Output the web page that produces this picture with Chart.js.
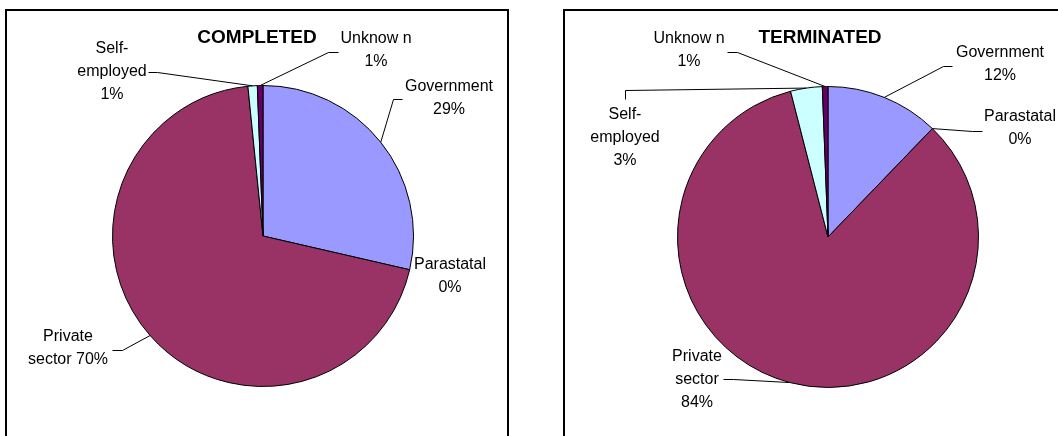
<!DOCTYPE html>
<html>
<head>
<meta charset="utf-8">
<script src="https://cdn.jsdelivr.net/npm/chart.js@4.4.1/dist/chart.umd.min.js"></script>
<style>
  html, body { margin:0; padding:0; background:#fff; width:1058px; height:436px; overflow:hidden; }
  .box { position:absolute; border:2px solid #000; box-sizing:border-box; }
  canvas { position:absolute; top:0; }
</style>
</head>
<body>
<div class="box" style="left:5px; top:9px; width:504px; height:460px;"></div>
<div class="box" style="left:563px; top:9px; width:520px; height:460px;"></div>
<canvas id="c1" width="529" height="436" style="left:0px;"></canvas>
<canvas id="c2" width="529" height="436" style="left:529px;"></canvas>
<script>
// ---- data ----
const categories = ["Government", "Parastatal", "Private sector", "Self-employed", "Unknown"];
const completedValues = [28.6, 0, 69.8, 1.0, 0.6];
const terminatedValues = [12.2, 0, 83.8, 3.4, 0.6];
const sliceColors = ["#9999FF", "#FFFFCC", "#993366", "#CCFFFF", "#660066"];
const completedTitle = "COMPLETED";
const terminatedTitle = "TERMINATED";
// label text lines ({p} = percentage)
const completedLabelLines = [["Government", "{p}"], ["Parastatal", "{p}"], ["Private", "sector {p}"], ["Self-", "employed", "{p}"], ["Unknow n", "{p}"]];
const terminatedLabelLines = [["Government", "{p}"], ["Parastatal", "{p}"], ["Private", "sector", "{p}"], ["Self-", "employed", "{p}"], ["Unknow n", "{p}"]];

// ---- layout (label placement, leader elbows) ----
const completedLayout = {
  padding: {left:112, right:115, top:85, bottom:49},
  titleX: 257, titleY: 38,
  labels: [
    {x:449, y:87, line:[[393,99],[402,99]]},
    {x:450, y:265, line:null},
    {x:68, y:337, line:[[122,350],[112,350]]},
    {x:112, y:49, line:[[157,72],[148,72]]},
    {x:376, y:39, line:[[328,52],[338,52]]}
  ]
};
const terminatedLayout = {
  padding: {left:148, right:79, top:86, bottom:48},
  titleX: 291, titleY: 38,
  labels: [
    {x:471, y:53, line:[[414,66],[423,66]]},
    {x:491, y:117, line:[[443,131],[453,131]]},
    {x:168, y:357, line:[[204,379],[194,379]]},
    {x:96, y:115, line:[[96,90],[96,99]]},
    {x:160, y:39, line:[[208,52],[198,52]]}
  ]
};

const LABEL_FONT = '16px "Liberation Sans", Arial, sans-serif';
const TITLE_FONT = 'bold 19px "Liberation Sans", Arial, sans-serif';
const LINE_H = 23;

function labelPlugin(layout, lines, title) {
  return {
    id: 'pieLabels',
    afterDraw(chart) {
      const ctx = chart.ctx;
      const meta = chart.getDatasetMeta(0);
      const vals = chart.data.datasets[0].data;
      const total = vals.reduce((a, b) => a + b, 0);
      ctx.save();
      ctx.fillStyle = '#000';
      ctx.textAlign = 'center';
      ctx.textBaseline = 'middle';
      ctx.font = TITLE_FONT;
      ctx.fillText(title, layout.titleX, layout.titleY);
      ctx.font = LABEL_FONT;
      ctx.strokeStyle = '#000';
      ctx.lineWidth = 1;
      meta.data.forEach((arc, i) => {
        const L = layout.labels[i];
        const pct = Math.round(vals[i] / total * 100) + '%';
        lines[i].forEach((t, k) => {
          ctx.fillText(t.replace('{p}', pct), L.x, L.y + k * LINE_H);
        });
        if (L.line) {
          const p = arc.getProps(['x', 'y', 'startAngle', 'endAngle', 'outerRadius'], true);
          const mid = (p.startAngle + p.endAngle) / 2;
          const ax = p.x + Math.cos(mid) * p.outerRadius;
          const ay = p.y + Math.sin(mid) * p.outerRadius;
          ctx.beginPath();
          ctx.moveTo(ax, ay);
          L.line.forEach(pt => ctx.lineTo(pt[0] + 0.5, pt[1] + 0.5));
          ctx.stroke();
        }
      });
      ctx.restore();
    }
  };
}

function makePie(id, values, layout, lines, title) {
  return new Chart(document.getElementById(id), {
    type: 'pie',
    data: {
      labels: categories,
      datasets: [{
        data: values,
        backgroundColor: sliceColors,
        borderColor: '#000',
        borderWidth: 1
      }]
    },
    options: {
      responsive: false,
      devicePixelRatio: 1,
      animation: false,
      layout: { padding: layout.padding },
      plugins: { legend: { display: false }, tooltip: { enabled: false }, title: { display: false } }
    },
    plugins: [labelPlugin(layout, lines, title)]
  });
}

makePie('c1', completedValues, completedLayout, completedLabelLines, completedTitle);
makePie('c2', terminatedValues, terminatedLayout, terminatedLabelLines, terminatedTitle);
</script>
</body>
</html>
